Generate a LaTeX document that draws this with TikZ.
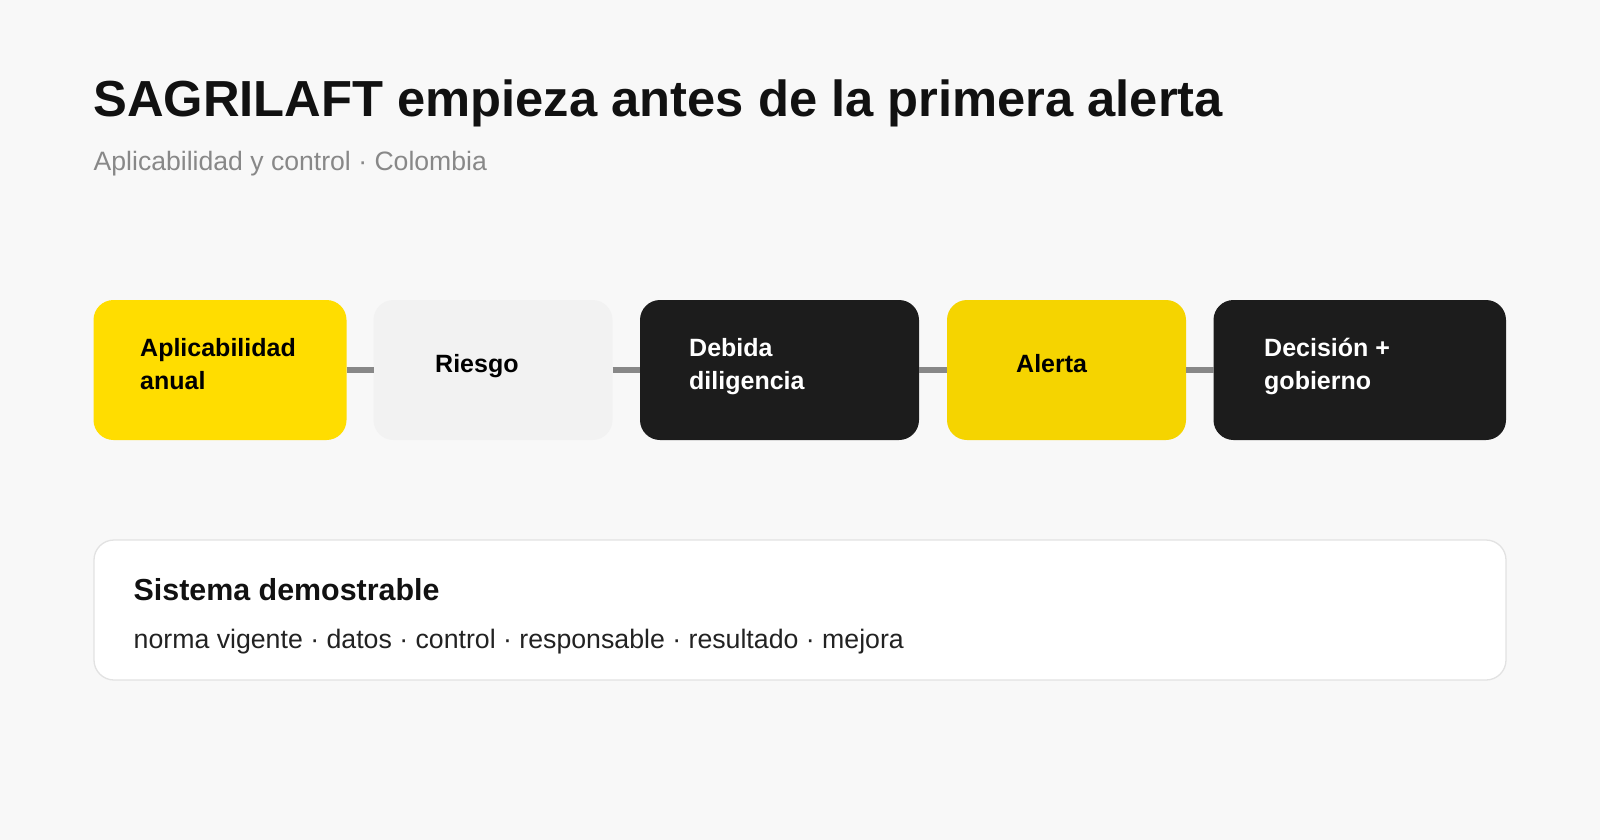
\documentclass[tikz,border=0pt]{standalone}
\usepackage{fontspec}
\setmainfont{Liberation Sans}
\definecolor{bgc}{HTML}{F8F8F8}
\definecolor{yelA}{HTML}{FFDD00}
\definecolor{yelB}{HTML}{F5D400}
\definecolor{greyBox}{HTML}{F2F2F2}
\definecolor{darkBox}{HTML}{1C1C1C}
\definecolor{connC}{HTML}{888888}
\definecolor{cardLine}{HTML}{E2E2E2}
\definecolor{titleC}{HTML}{111111}
\definecolor{subC}{HTML}{888888}
\definecolor{bodyC}{HTML}{222222}
\tikzset{
  stagebox/.style={draw=none, rounded corners=20pt, minimum height=140pt, inner sep=0pt, outer sep=0pt, anchor=north west},
  conn/.style={draw=connC, line width=5.5pt},
  boxtxt/.style={inner sep=0pt, anchor=base west, font=\fontsize{25}{30}\selectfont\bfseries},
  cardbox/.style={draw=cardLine, line width=1.3pt, fill=white, rounded corners=20pt, inner sep=0pt, outer sep=0pt, anchor=north west, minimum width=1412pt, minimum height=140pt},
}
\begin{document}
\begin{tikzpicture}[x=1pt,y=-1pt]
\useasboundingbox (0,0) rectangle (1600,840);
\fill[bgc] (0,0) rectangle (1600,840);

\node[inner sep=0pt, anchor=base west, text=titleC, font=\fontsize{50.7}{56}\selectfont\bfseries] (title) at (93,117) {SAGRILAFT empieza antes de la primera alerta};
\node[inner sep=0pt, anchor=base west, text=subC, font=\fontsize{26.6}{30}\selectfont] (sub) at (93.5,170) {Aplicabilidad y control · Colombia};

\node[stagebox, fill=yelA, minimum width=253pt] (b1) at (93.5,300) {};
\node[stagebox, fill=greyBox, minimum width=239pt] (b2) at (373.5,300) {};
\node[stagebox, fill=darkBox, minimum width=279pt] (b3) at (640,300) {};
\node[stagebox, fill=yelB, minimum width=239pt] (b4) at (947,300) {};
\node[stagebox, fill=darkBox, minimum width=292.5pt] (b5) at (1213.5,300) {};

\draw[conn] (b1.east) -- (b2.west);
\draw[conn] (b2.east) -- (b3.west);
\draw[conn] (b3.east) -- (b4.west);
\draw[conn] (b4.east) -- (b5.west);

\node[boxtxt, text=black] (t1a) at (140,356) {Aplicabilidad};
\node[boxtxt, text=black] (t1b) at (140,389) {anual};
\node[boxtxt, text=black] (t2) at (435,372.5) {Riesgo};
\node[boxtxt, text=white] (t3a) at (689,356) {Debida};
\node[boxtxt, text=white] (t3b) at (689,389) {diligencia};
\node[boxtxt, text=black] (t4) at (1016,372.5) {Alerta};
\node[boxtxt, text=white] (t5a) at (1264,356) {Decisión +};
\node[boxtxt, text=white] (t5b) at (1264,389) {gobierno};

\node[cardbox] (card) at (94,540) {};
\node[inner sep=0pt, anchor=base west, text=titleC, font=\fontsize{30.4}{34}\selectfont\bfseries] (cardtitle) at (133.5,600.5) {Sistema demostrable};
\node[inner sep=0pt, anchor=base west, text=bodyC, font=\fontsize{26.7}{30}\selectfont] (cardbody) at (133.5,648) {norma vigente · datos · control · responsable · resultado · mejora};
\end{tikzpicture}
\end{document}
